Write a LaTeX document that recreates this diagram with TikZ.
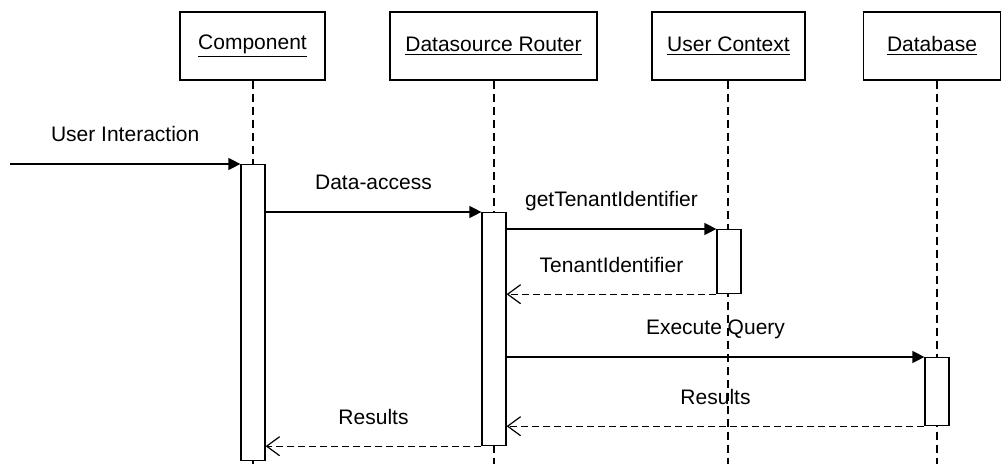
\documentclass[tikz,border=0pt]{standalone}
\usepackage{fontspec}
\setmainfont{Liberation Sans}
\usetikzlibrary{arrows.meta,positioning}
\tikzset{
  sdObj/.style={draw, line width=0.6pt, minimum width=72.5pt, minimum height=34pt, inner sep=0pt},
  sdBar/.style={draw, fill=white, line width=0.6pt, minimum width=12pt, anchor=north, inner sep=0pt},
  %% Lifelines
  sdLife/.style={line width=0.6pt, dash pattern=on 4pt off 2.5pt},
  %% Message arrows
  sdmsg/.style={-{Triangle[length=6pt,width=6pt]}, line width=0.6pt},
  sdret/.style={-{Straight Barb[length=6.5pt,width=9.5pt]}, line width=0.6pt, dash pattern=on 3.5pt off 2pt},
  %% Message label
  sdlbl/.style={anchor=base, yshift=11pt, inner sep=0pt},
}

\begin{document}
\begin{tikzpicture}[x=0.5pt, y=0.5pt, font=\fontsize{10.5}{12.6}\selectfont]
\useasboundingbox (0,0) rectangle (1001,-464);

\node[sdObj]                     (pComp)   at (252.5,-46) {\underline{Component}};
\node[sdObj, minimum width=103.5pt] (pRouter) at (493.5,-46) {\underline{Datasource Router}};
\node[sdObj, minimum width=76.5pt]  (pCtx)    at (728.5,-46) {\underline{User Context}};
\node[sdObj, minimum width=68.5pt]  (pDB)     at (932,-46)   {\underline{Database}};

\coordinate (eComp)   at (253,-464);
\coordinate (eRouter) at (494,-464);
\coordinate (eCtx)    at (728,-464);
\coordinate (eDB)     at (937,-464);

\draw[sdLife] (pComp.south -| eComp) -- (eComp);
\draw[sdLife] (pRouter.south -| eRouter) -- (eRouter);
\draw[sdLife] (pCtx.south -| eCtx) -- (eCtx);
\draw[sdLife] (pDB.south -| eDB) -- (eDB);

\node[sdBar, minimum height=148pt]   (bComp)   at (253,-164) {};
\node[sdBar, minimum height=116.5pt] (bRouter) at (494,-212) {};
\node[sdBar, minimum height=32pt]    (bCtx)    at (729,-229) {};
\node[sdBar, minimum height=34pt]    (bDB)     at (937,-357) {};

\coordinate (uiStart) at (10,-164);
\draw[sdmsg] (uiStart) -- node[sdlbl]{User Interaction} (bComp.north west);
\draw[sdmsg] (bComp.east |- bRouter.north) -- node[sdlbl]{Data-access} (bRouter.north west);
\draw[sdmsg] (bRouter.east |- bCtx.north) -- node[sdlbl]{getTenantIdentifier} (bCtx.north west);
\draw[sdret] (bCtx.south west) -- node[sdlbl]{TenantIdentifier} (bRouter.east |- bCtx.south);
\draw[sdmsg] (bRouter.east |- bDB.north) -- node[sdlbl]{Execute Query} (bDB.north west);
\draw[sdret] (bDB.south west) -- node[sdlbl]{Results} (bRouter.east |- bDB.south);
\draw[sdret] (bRouter.south west) -- node[sdlbl]{Results} (bComp.east |- bRouter.south);

\end{tikzpicture}
\end{document}
